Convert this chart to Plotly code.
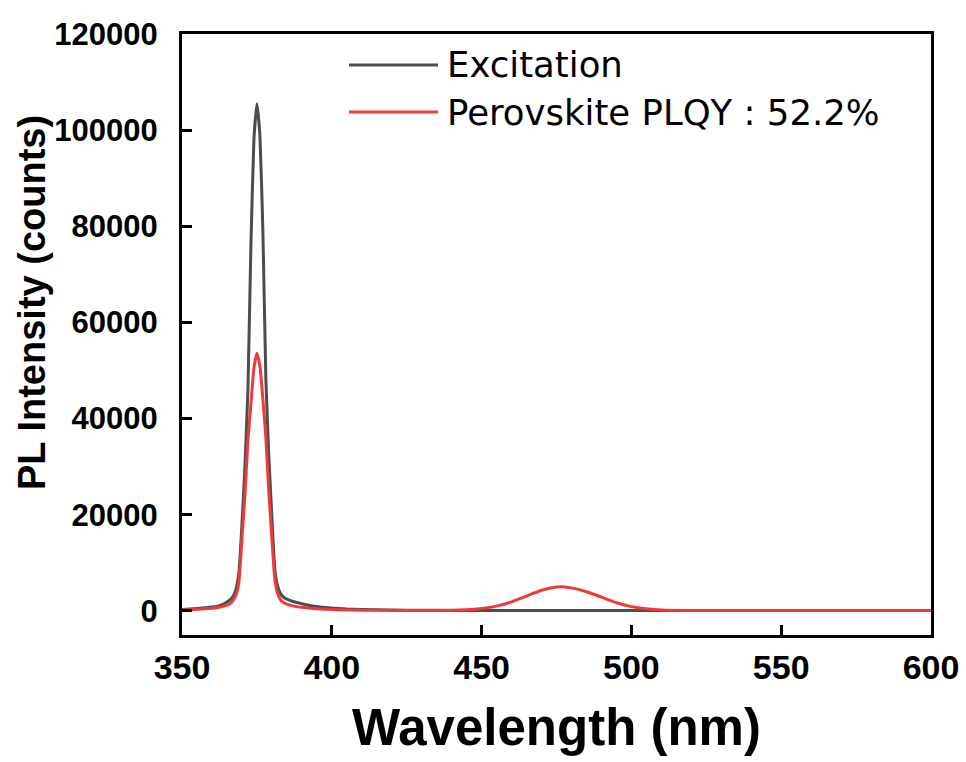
import plotly.graph_objects as go

wavelength = [350, 355, 360, 362, 364, 366,
              367, 368, 369, 370, 371, 372, 373, 374, 375, 376, 377, 378, 379, 380, 381, 382, 383, 384,
              386, 388, 390, 393, 396, 400, 405, 410,
              420, 430, 440, 445, 450, 455, 460, 465, 470, 475, 477, 480, 485, 490, 495, 500, 505, 510,
              520, 540, 560, 580, 600]

excitation = [300, 500, 800, 1000, 1500, 2300,
              3000, 4500, 8000, 18000, 30000, 46000, 76000, 98000, 105500, 99000, 79000, 48000, 32000, 19500, 8500, 5000, 3500, 2800,
              2200, 1800, 1500, 1100, 850, 600, 400, 300,
              200, 150, 120, 100, 100, 100, 100, 100, 100, 100, 100, 100, 100, 100, 100, 100, 100, 100,
              100, 100, 100, 100, 100]

perovskite = [200, 350, 550, 700, 1000, 1500,
              2200, 3300, 6000, 15000, 24000, 35500, 43000, 50500, 53600, 51000, 44000, 36000, 24500, 15000, 6500, 3500, 2200, 1700,
              1200, 900, 750, 550, 420, 320, 220, 160,
              110, 100, 150, 250, 500, 1000, 1900, 3100, 4300, 5000, 5050, 4800, 4000, 2900, 1700, 900, 450, 200,
              100, 80, 80, 80, 80]

series_names = ["Excitation", "Perovskite PLQY : 52.2%"]
series_colors = ["#4d4d4d", "#f03a3a"]

x_ticks = [350, 400, 450, 500, 550, 600]
y_ticks = [0, 20000, 40000, 60000, 80000, 100000, 120000]

FONT = "Liberation Sans, Arial, sans-serif"

fig = go.Figure()
for name, vals, col in zip(series_names, [excitation, perovskite], series_colors):
    fig.add_trace(go.Scatter(x=wavelength, y=vals, mode="lines", name=name,
                             line=dict(color=col, width=3, shape="spline", smoothing=0.4),
                             showlegend=False))

# custom legend (long sample lines like the reference)
L, R, T, B = 182, 931, 34, 635
W, H = R - L, B - T
def px(x):
    return (x - L) / W
def py(y):
    return (B - y) / H

legend_y = [65, 112]
for name, col, yy in zip(series_names, series_colors, legend_y):
    fig.add_shape(type="line", xref="paper", yref="paper",
                  x0=px(349), x1=px(438), y0=py(yy), y1=py(yy),
                  line=dict(color=col, width=3))
    fig.add_annotation(xref="paper", yref="paper", x=px(445), y=py(yy),
                       xanchor="left", yanchor="middle", showarrow=False,
                       text=name, font=dict(family="DejaVu Sans", size=35.5, color="black"))

# axis titles
fig.add_annotation(xref="paper", yref="paper", x=px(556), y=py(727),
                   xanchor="center", yanchor="middle", showarrow=False,
                   text="<b>Wavelength (nm)</b>", font=dict(family=FONT, size=51, color="black"))
fig.add_annotation(xref="paper", yref="paper", x=px(32), y=py(303),
                   xanchor="center", yanchor="middle", showarrow=False, textangle=-90,
                   text="<b>PL Intensity (counts)</b>", font=dict(family=FONT, size=38, color="black"))

fig.update_layout(
    width=966, height=762,
    margin=dict(l=L, r=966 - R, t=T, b=762 - B, autoexpand=False),
    plot_bgcolor="white", paper_bgcolor="white",
    showlegend=False,
    font=dict(family=FONT, color="black"),
)
fig.update_xaxes(range=[350, 600], tickvals=x_ticks, ticktext=[str(v) for v in x_ticks],
                 showgrid=False, zeroline=False, showline=True, linecolor="black", linewidth=3,
                 mirror=True, ticks="inside", ticklen=10, tickwidth=3, tickcolor="black",
                 tickfont=dict(family=FONT, size=34, color="black", weight="bold"),
                 ticklabelstandoff=0, automargin=False, ticklabeloverflow="allow")
fig.update_yaxes(range=[-5000, 120000], tickvals=y_ticks, ticktext=[str(v) for v in y_ticks],
                 showgrid=False, zeroline=False, showline=True, linecolor="black", linewidth=3,
                 mirror=True, ticks="inside", ticklen=10, tickwidth=3, tickcolor="black",
                 tickfont=dict(family=FONT, size=31, color="black", weight="bold"),
                 ticklabelstandoff=15, automargin=False)

fig.write_html("out.html")
